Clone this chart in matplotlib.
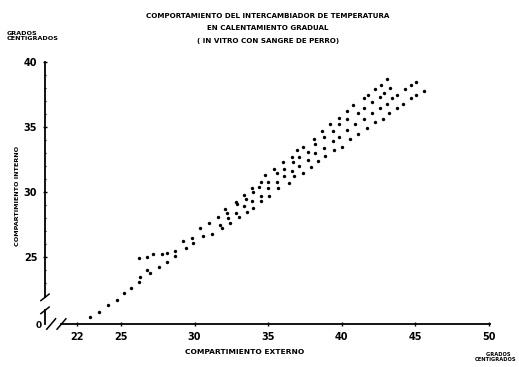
"""Heat exchanger behaviour during gradual warming (in vitro, dog blood)."""

import matplotlib

matplotlib.use("Agg")
import matplotlib.pyplot as plt
from matplotlib import font_manager

# Temperatures in degrees C: external compartment (x) vs internal compartment (y),
# one pair of lists per run.
ext_1 = [26.2, 26.8, 27.2, 27.8, 28.1, 28.7, 29.2, 29.8, 30.4, 31.0, 31.6, 32.1,
         32.8, 33.4, 33.9, 34.5, 34.8, 35.4, 36.0, 36.6, 37.0, 37.4, 38.1, 38.7,
         39.2, 39.8, 40.4, 40.8, 41.5, 41.8, 42.3, 42.7, 43.1]
int_1 = [24.9, 25.0, 25.2, 25.2, 25.3, 25.5, 26.2, 26.5, 27.2, 27.6, 28.1, 28.7,
         29.2, 29.8, 30.3, 30.8, 31.3, 31.8, 32.3, 32.7, 33.2, 33.5, 34.1, 34.7,
         35.2, 35.7, 36.2, 36.7, 37.2, 37.5, 37.9, 38.2, 38.7]

ext_2 = [26.3, 26.8, 32.2, 32.9, 33.5, 34.0, 34.4, 35.0, 35.6, 36.1, 36.7, 37.1,
         37.7, 38.2, 38.8, 39.4, 39.8, 40.4, 41.1, 41.5, 42.1, 42.6, 42.9, 43.3]
int_2 = [23.5, 24.0, 28.4, 29.1, 29.5, 30.0, 30.4, 30.8, 31.5, 31.8, 32.3, 32.7,
         33.1, 33.7, 34.2, 34.7, 35.2, 35.6, 36.1, 36.5, 36.9, 37.3, 37.6, 38.0]

ext_3 = [22.9, 23.5, 24.1, 24.7, 25.2, 25.7, 26.2, 27.0, 27.6, 28.1, 28.7, 29.4,
         29.9, 30.6, 31.2, 31.7, 32.3, 32.8, 33.4, 33.9, 34.5, 35.0, 35.6, 36.1,
         36.6, 37.1, 37.7, 38.2, 38.8, 39.4, 39.8, 40.4, 40.9, 41.5, 42.1, 42.6,
         43.1, 43.4, 43.8, 44.3, 44.7, 45.1]
int_3 = [20.4, 20.8, 21.3, 21.7, 22.2, 22.6, 23.1, 23.8, 24.2, 24.6, 25.1, 25.7,
         26.1, 26.6, 26.8, 27.5, 28.0, 28.4, 28.9, 29.3, 29.7, 30.3, 30.8, 31.2,
         31.6, 32.0, 32.5, 33.0, 33.4, 33.9, 34.2, 34.8, 35.2, 35.6, 36.1, 36.5,
         36.8, 37.2, 37.5, 37.9, 38.2, 38.5]

ext_4 = [31.9, 32.4, 33.0, 33.6, 34.0, 34.5, 35.1, 35.7, 36.4, 36.8, 37.4, 37.9,
         38.4, 38.9, 39.5, 40.0, 40.6, 41.1, 41.7, 42.3, 42.8, 43.2, 43.8, 44.2,
         44.7, 45.1, 45.6]
int_4 = [27.2, 27.6, 28.1, 28.5, 28.8, 29.3, 29.7, 30.3, 30.7, 31.2, 31.5, 31.9,
         32.4, 32.8, 33.2, 33.5, 34.1, 34.5, 34.9, 35.4, 35.6, 36.1, 36.5, 36.8,
         37.2, 37.5, 37.8]

x_ticks = [22, 25, 30, 35, 40, 45, 50]
y_ticks = [25, 30, 35, 40]

title_lines = [
    "COMPORTAMIENTO DEL INTERCAMBIADOR DE TEMPERATURA",
    "EN CALENTAMIENTO GRADUAL",
    "( IN VITRO CON SANGRE DE PERRO)",
]


def pick_font():
    names = {f.name for f in font_manager.fontManager.ttflist}
    for name in ("Liberation Sans Narrow", "DejaVu Sans"):
        if name in names:
            return name
    return "DejaVu Sans"


FONT = pick_font()
plt.rcParams["font.family"] = [FONT, "DejaVu Sans"]
plt.rcParams["font.weight"] = "bold"

W, H = 519, 367
fig = plt.figure(figsize=(W / 100, H / 100), dpi=100)
# axes box in pixels: x 45..490, y 62..324
ax = fig.add_axes([45 / W, 1 - 324 / H, 445 / W, 262 / H])
ax.set_xlim(19.83, 50.1)
ax.set_ylim(19.85, 40.0)

for xs, ys in [(ext_1, int_1), (ext_2, int_2), (ext_3, int_3), (ext_4, int_4)]:
    ax.scatter(xs, ys, s=6, color="black", linewidths=0, zorder=3)

for side in ("top", "right"):
    ax.spines[side].set_visible(False)
ax.spines["left"].set_linewidth(1.3)
ax.spines["bottom"].set_linewidth(1.3)
ax.spines["left"].set_bounds(21.9, 40.0)
ax.spines["bottom"].set_bounds(20.95, 50.1)

# stubs and break marks near the origin
ax.plot([19.83, 19.83], [19.85, 20.9], color="black", lw=1.3, clip_on=False)
for yb in (21.9, 20.9):
    ax.plot([19.55, 20.11], [yb - 0.25, yb + 0.25], color="black", lw=1.1,
            clip_on=False)
for xb in (20.25, 20.95):
    ax.plot([xb - 0.3, xb + 0.3], [19.45, 20.25], color="black", lw=1.1,
            clip_on=False)

ax.set_xticks(x_ticks)
ax.set_xticklabels([str(v) for v in x_ticks])
ax.set_yticks(y_ticks)
ax.set_yticklabels([str(v) for v in y_ticks])
ax.set_yticks(range(22, 40), minor=True)
ax.set_xticks(range(23, 50), minor=True)
ax.tick_params(axis="both", which="major", direction="inout", length=3, width=1,
               labelsize=7, pad=4)
ax.tick_params(axis="y", which="minor", direction="inout", length=2, width=0.8)
ax.tick_params(axis="x", which="minor", length=0)
for lab in ax.get_xticklabels() + ax.get_yticklabels():
    lab.set_fontweight("bold")

fig.text(39 / W, 1 - 325 / H, "0", fontsize=6.5, ha="center", va="center")

for i, line in enumerate(title_lines):
    fig.text(268 / W, 1 - (16 + i * 12.5) / H, line, fontsize=5.1, ha="center",
             va="center")

fig.text(7 / W, 1 - 36 / H, "GRADOS\nCENTIGRADOS", fontsize=4.6, ha="left",
         va="center", linespacing=0.85)
fig.text(516 / W, 1 - 357 / H, "GRADOS   \nCENTIGRADOS", fontsize=3.7,
         ha="right", va="center", linespacing=0.85)

fig.text(245 / W, 1 - 352 / H, "COMPARTIMIENTO EXTERNO", fontsize=5.4,
         ha="center", va="center")
fig.text(18 / W, 1 - 196 / H, "COMPARTIMIENTO INTERNO", fontsize=4.6,
         ha="center", va="center", rotation=90)

fig.savefig("out.png", dpi=100)
